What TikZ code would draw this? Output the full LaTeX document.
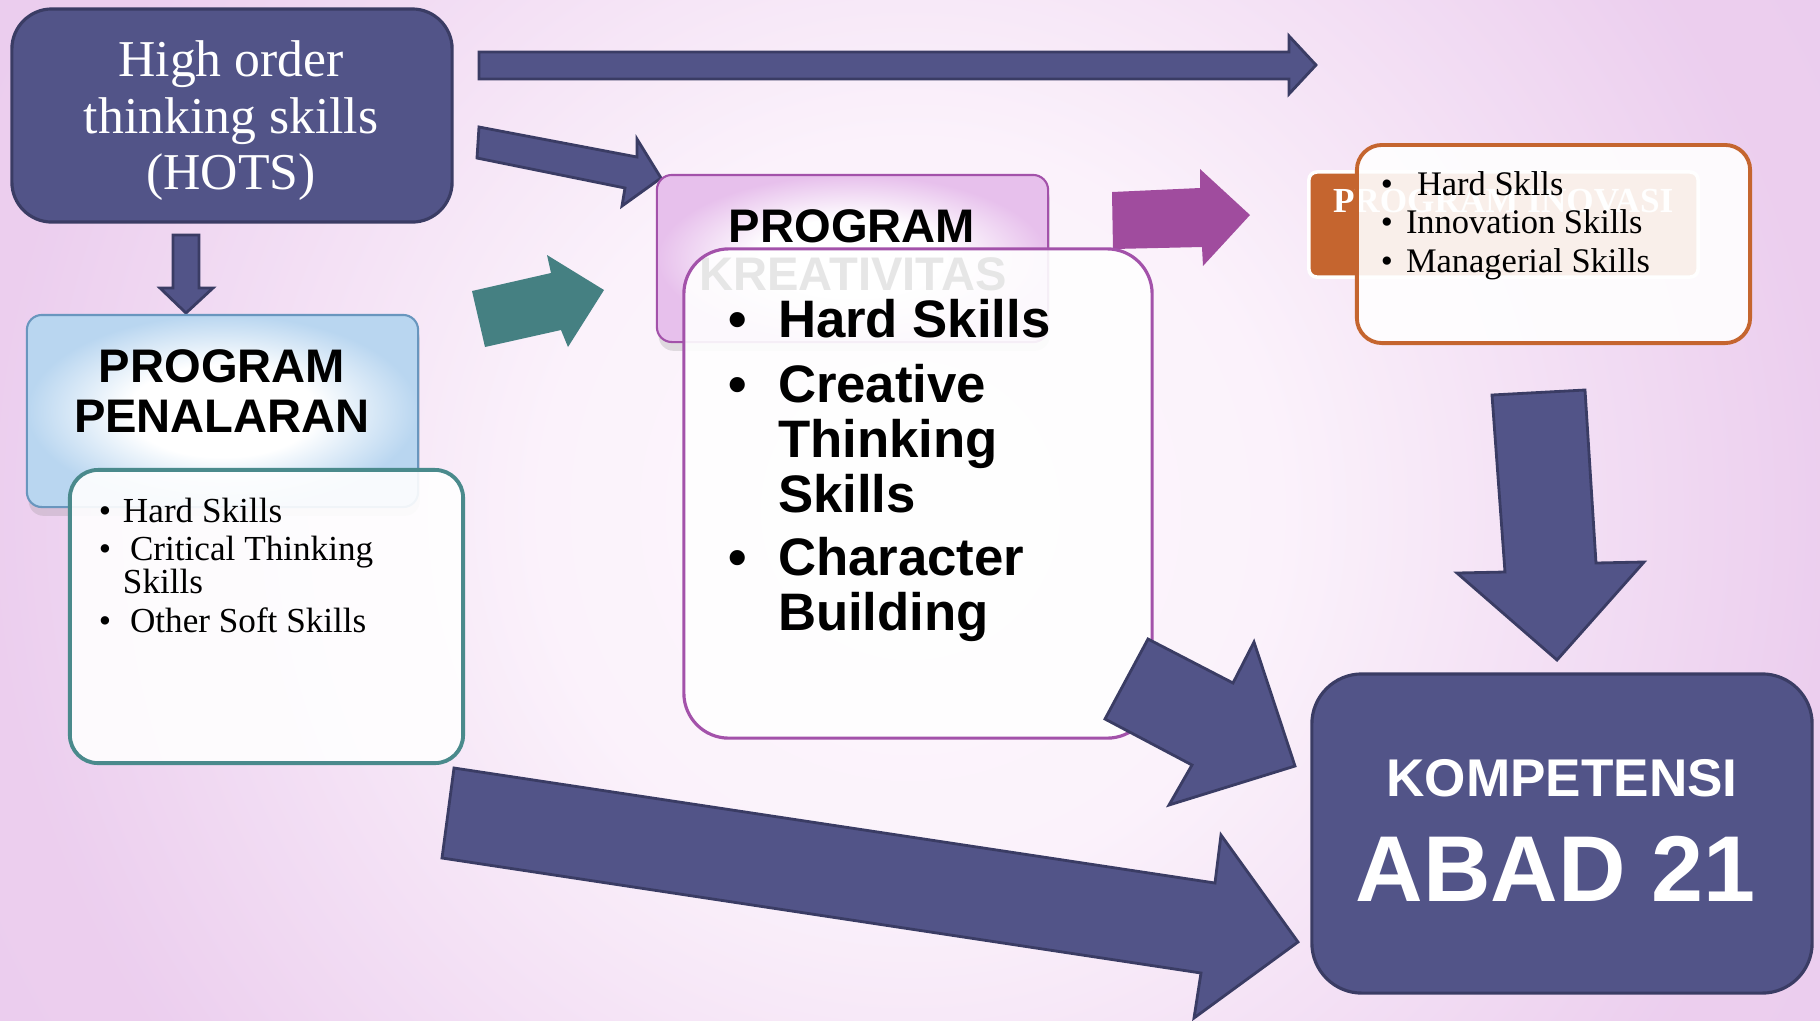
\documentclass[tikz,border=0pt]{standalone}
\usepackage{fontspec}
\setmainfont{Liberation Serif}
\setsansfont{Liberation Sans}
\usetikzlibrary{shadows}

\definecolor{navy}{RGB}{82,84,136}
\definecolor{navyline}{RGB}{58,60,100}
\definecolor{bluebox}{RGB}{185,214,240}
\definecolor{blueline}{RGB}{105,150,190}
\definecolor{tealline}{RGB}{74,138,140}
\definecolor{tealfill}{RGB}{69,128,130}
\definecolor{pinkbox}{RGB}{231,192,236}
\definecolor{purpline}{RGB}{163,82,170}
\definecolor{purparrow}{RGB}{160,76,158}
\definecolor{orangebox}{RGB}{197,101,47}

\pgfdeclareradialshading{bgshade}{\pgfpoint{0bp}{0bp}}{rgb(0bp)=(0.99,0.965,0.99); rgb(10bp)=(0.985,0.95,0.985); rgb(25bp)=(0.925,0.81,0.935); rgb(50bp)=(0.91,0.77,0.92)}
\pgfdeclareradialshading{blueshade}{\pgfpoint{0bp}{0bp}}{color(0bp)=(white); color(12bp)=(white); color(25bp)=(bluebox); color(50bp)=(bluebox)}
\pgfdeclareradialshading{pinkshade}{\pgfpoint{0bp}{0bp}}{color(0bp)=(white); color(12bp)=(white); color(25bp)=(pinkbox); color(50bp)=(pinkbox)}

\begin{document}
\begin{tikzpicture}[x=0.01cm,y=-0.01cm,
  txt/.style={inner sep=0pt, outer sep=0pt},
  boxbase/.style={inner sep=0pt, outer sep=0pt},
  navybox/.style={boxbase, fill=navy, draw=navyline, line width=0.9pt},
  listbox/.style={boxbase, fill=white, fill opacity=0.9, line width=1.1pt},
  navyarrow/.style={fill=navy, draw=navyline, line width=0.8pt, line join=miter},
  serifw/.style={txt, text=white, font=\fontsize{14.7}{16}\selectfont},
  hdr/.style={txt, font=\fontsize{13.4}{16}\sffamily\bfseries},
  smalllist/.style={txt, font=\fontsize{10}{12}\selectfont},
  biglist/.style={txt, font=\fontsize{15}{18}\sffamily\bfseries},
  inolist/.style={txt, font=\fontsize{9.8}{11}\selectfont}
]
\useasboundingbox (0,0) rectangle (1820,1020);
\begin{scope}
  \clip (0,0) rectangle (1820,1020);
  \shade[shading=bgshade] (0,-400) rectangle (1820,1420);
\end{scope}

% HOTS
\node[navybox, rounded corners=0.4cm, minimum width=4.4cm, minimum height=2.13cm] (hots) at (232,115.5) {};
\node[serifw, anchor=base] (hotsa) at (231,76) {High order};
\node[serifw, anchor=base] (hotsb) at (231,133) {thinking skills};
\node[serifw, anchor=base] (hotsc) at (231,189) {(HOTS)};

% small down arrow
\draw[navyarrow] (173,235) -- (199,235) -- (199,288) -- (213,288) -- (186,313) -- (160,288) -- (173,288) -- cycle;

% arrows from HOTS
\draw[navyarrow] (479,52) -- (1289,52) -- (1289,36) -- (1316,65) -- (1289,94) -- (1289,79) -- (479,79) -- cycle;
\draw[navyarrow] (479,127) -- (637,157) -- (637,139) -- (661,178) -- (622,206) -- (625,188) -- (477,158) -- cycle;
\fill[tealfill] (472,291) -- (551,273) -- (547,255) -- (604,290) -- (568,347) -- (561,330) -- (485,347) -- cycle;

% PROGRAM PENALARAN
\node[boxbase, shade, shading=blueshade, draw=blueline, line width=0.6pt, rounded corners=0.15cm,
      minimum width=3.91cm, minimum height=1.92cm,
      drop shadow={opacity=0.22, shadow xshift=0.5pt, shadow yshift=-2.5pt}] (penbox) at (222.5,411) {};
\node[hdr, anchor=base] (pena) at (222,382) {PROGRAM};
\node[hdr, anchor=base] (penb) at (222,432) {PENALARAN};
\node[listbox, draw=tealline, rounded corners=0.28cm, minimum width=3.93cm, minimum height=2.93cm] (penlist) at (266.5,616.5) {};
\node[smalllist, anchor=base] (pb1) at (105,522) {\textbullet};
\node[smalllist, anchor=base west] (pl1) at (123,522) {Hard Skills};
\node[smalllist, anchor=base] (pb2) at (105,560) {\textbullet};
\node[smalllist, anchor=base west] (pl2) at (130,560) {Critical Thinking};
\node[smalllist, anchor=base west] (pl3) at (123,593) {Skills};
\node[smalllist, anchor=base] (pb3) at (105,632) {\textbullet};
\node[smalllist, anchor=base west] (pl4) at (130,632) {Other Soft Skills};

% purple arrow to INOVASI
\fill[purparrow] (1112,192) -- (1200,188) -- (1200,169) -- (1250,215) -- (1203,266) -- (1202,247) -- (1113,249) -- cycle;

% PROGRAM KREATIVITAS
\node[boxbase, shade, shading=pinkshade, draw=purpline, line width=0.6pt, rounded corners=0.15cm,
      minimum width=3.91cm, minimum height=1.67cm,
      drop shadow={opacity=0.22, shadow xshift=0.5pt, shadow yshift=-2.5pt}] (krebox) at (852.5,258.5) {};
\node[hdr, anchor=base] (krea) at (852,242) {PROGRAM};
\node[hdr, anchor=base] (kreb) at (853,290) {KREATIVITAS};
\node[listbox, draw=purpline, line width=0.9pt, rounded corners=0.45cm, minimum width=4.68cm, minimum height=4.89cm] (krelist) at (918,493.5) {};
\node[biglist, anchor=base] (kb1) at (738,337) {\textbullet};
\node[biglist, anchor=base west] (kl1) at (778,337) {Hard Skills};
\node[biglist, anchor=base] (kb2) at (738,402) {\textbullet};
\node[biglist, anchor=base west] (kl2) at (778,402) {Creative};
\node[biglist, anchor=base west] (kl3) at (778,457) {Thinking};
\node[biglist, anchor=base west] (kl4) at (778,512) {Skills};
\node[biglist, anchor=base] (kb3) at (738,575) {\textbullet};
\node[biglist, anchor=base west] (kl5) at (778,575) {Character};
\node[biglist, anchor=base west] (kl6) at (778,630) {Building};

% PROGRAM INOVASI
\node[boxbase, fill=orangebox, draw=white, line width=1pt, rounded corners=0.08cm, minimum width=3.89cm, minimum height=1.05cm] (inotab) at (1503.5,224.5) {};
\node[txt, anchor=base west, text=white, font=\fontsize{10}{12}\bfseries] (inot) at (1333,212) {PROGRAM INOVASI};
\node[listbox, draw=orangebox, rounded corners=0.25cm, minimum width=3.93cm, minimum height=1.98cm] (inolist) at (1553.5,244) {};
\node[inolist, anchor=base] (ib1) at (1387,195) {\textbullet};
\node[inolist, anchor=base west] (il1) at (1417,195) {Hard Sklls};
\node[inolist, anchor=base] (ib2) at (1387,233) {\textbullet};
\node[inolist, anchor=base west] (il2) at (1406,233) {Innovation Skills};
\node[inolist, anchor=base] (ib3) at (1387,272) {\textbullet};
\node[inolist, anchor=base west] (il3) at (1406,272) {Managerial Skills};

% down arrow to KOMPETENSI
\draw[navyarrow] (1492,395) -- (1585,390) -- (1596,563) -- (1644,562) -- (1557,660) -- (1457,573) -- (1505,572) -- cycle;

% KOMPETENSI ABAD 21
\node[navybox, rounded corners=0.5cm, minimum width=5.0cm, minimum height=3.19cm] (komp) at (1562,833.5) {};
\node[txt, anchor=base, text=white, font=\fontsize{15.1}{18}\sffamily\bfseries] (kompa) at (1562,796) {KOMPETENSI};
\node[txt, anchor=base, text=white, font=\fontsize{26.6}{30}\sffamily\bfseries] (kompb) at (1556,901) {ABAD 21};

% arrows into KOMPETENSI
\draw[navyarrow] (1148,639) -- (1233,683) -- (1254,642) -- (1295,766) -- (1169,805) -- (1192,765) -- (1105,719) -- cycle;
\draw[navyarrow] (454,768) -- (1215,883) -- (1221,835) -- (1298,942) -- (1194,1018) -- (1201,973) -- (442,858) -- cycle;
\end{tikzpicture}
\end{document}
